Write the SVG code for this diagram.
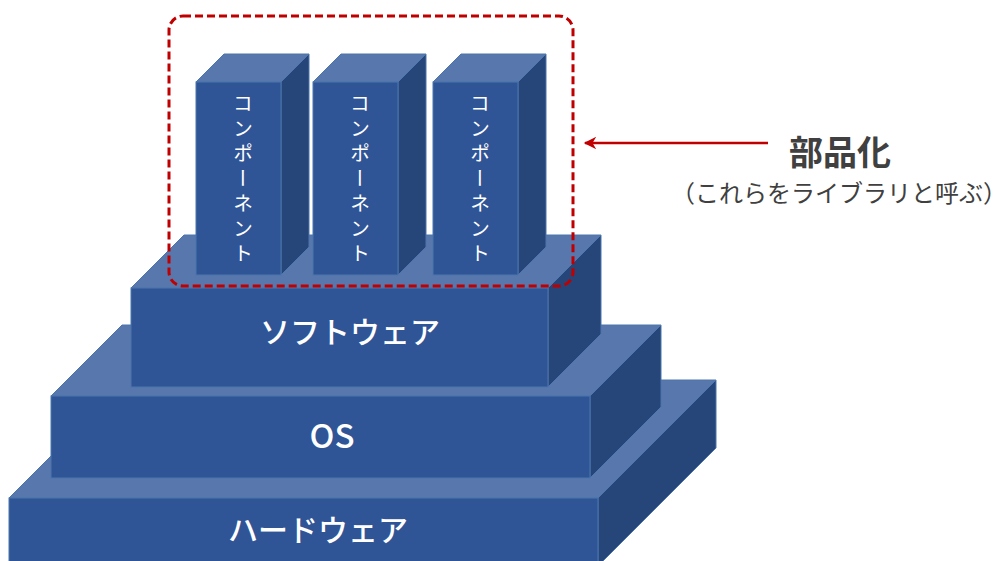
<svg xmlns="http://www.w3.org/2000/svg" width="1005" height="561" viewBox="0 0 1005 561">
  <style>
    .front { fill: #2F5597; stroke: #4D76AC; stroke-width: 1; }
    .top { fill: #5877AC; stroke: #4D76AC; stroke-width: 1; }
    .side { fill: #264579; stroke: #4D76AC; stroke-width: 1; }
    .label { font-family: "Noto Sans CJK JP", "Noto Sans", sans-serif; fill: #FFFFFF; text-anchor: middle; dominant-baseline: central; font-weight: 500; }
    .vlabel { font-family: "Noto Sans CJK JP", sans-serif; fill: #FFFFFF; font-size: 20px; letter-spacing: 5px; writing-mode: vertical-rl; text-anchor: middle; }
    .note { font-family: "Noto Sans CJK JP", sans-serif; fill: #404040; text-anchor: middle; dominant-baseline: central; }
  </style>
  <defs>
    <marker id="arrowhead" viewBox="0 0 10 10" refX="9" refY="5" markerWidth="5.5" markerHeight="5" orient="auto" markerUnits="strokeWidth">
      <path d="M0,0 L10,5 L0,10 L3,5 Z" fill="#C00000"/>
    </marker>
  </defs>
  <rect width="1005" height="561" fill="#FFFFFF"/>

  <!-- bottom layer -->
  <g id="hardware">
    <polygon class="top" points="9,498 127,380 716,380 598,498"/>
    <polygon class="side" points="598,498 716,380 716,448 598,566"/>
    <rect class="front" x="9" y="498" width="589" height="68"/>
    <text class="label" x="318" y="528" font-size="30">ハードウェア</text>
  </g>

  <!-- middle layer -->
  <g id="os">
    <polygon class="top" points="51,396 122,325 661,325 590,396"/>
    <polygon class="side" points="590,396 661,325 661,407 590,478"/>
    <rect class="front" x="51" y="396" width="539" height="82"/>
    <text class="label" x="332" y="434" font-size="33">OS</text>
  </g>

  <!-- upper layer -->
  <g id="software">
    <polygon class="top" points="131,288 184,235 601,235 548,288"/>
    <polygon class="side" points="548,288 601,235 601,334 548,387"/>
    <rect class="front" x="131" y="288" width="417" height="99"/>
    <text class="label" x="350" y="330" font-size="30">ソフトウェア</text>
  </g>

  <!-- component blocks -->
  <g id="component-1">
    <polygon class="top" points="196,82 224,54 309,54 281,82"/>
    <polygon class="side" points="281,82 309,54 309,247 281,275"/>
    <rect class="front" x="196" y="82" width="85" height="193"/>
    <text class="vlabel" x="243" y="181">コンポーネント</text>
  </g>
  <g id="component-2">
    <polygon class="top" points="313,82 341,54 426,54 398,82"/>
    <polygon class="side" points="398,82 426,54 426,247 398,275"/>
    <rect class="front" x="313" y="82" width="85" height="193"/>
    <text class="vlabel" x="360" y="181">コンポーネント</text>
  </g>
  <g id="component-3">
    <polygon class="top" points="433,82 461,54 546,54 518,82"/>
    <polygon class="side" points="518,82 546,54 546,247 518,275"/>
    <rect class="front" x="433" y="82" width="85" height="193"/>
    <text class="vlabel" x="480" y="181">コンポーネント</text>
  </g>

  <!-- library grouping -->
  <g id="library-frame">
    <rect x="169" y="16" width="404" height="270" rx="14" ry="14" fill="none" stroke="#C00000" stroke-width="3" stroke-dasharray="8 4"/>
  </g>

  <g id="connectors">
    <line x1="768" y1="143" x2="585" y2="143" stroke="#C00000" stroke-width="2.5" marker-end="url(#arrowhead)"/>
  </g>

  <g id="caption">
    <text class="note" x="840" y="150" font-size="34" font-weight="bold">部品化</text>
    <text class="note" x="839" y="191" font-size="24">（これらをライブラリと呼ぶ）</text>
  </g>
</svg>
